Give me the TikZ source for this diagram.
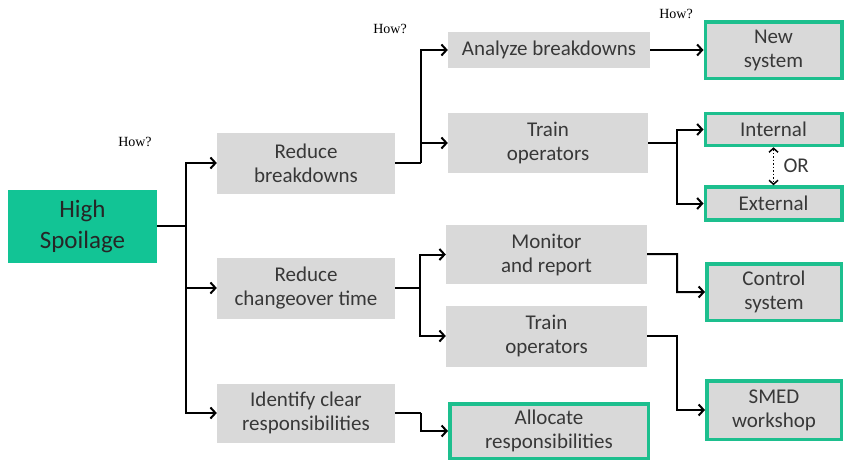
\documentclass[tikz,border=0pt]{standalone}
\usepackage{fontspec}
\setmainfont{Carlito}
\newfontfamily\howfont{Liberation Serif}
\usetikzlibrary{arrows.meta}

\definecolor{spoilgreen}{HTML}{12C495}
\definecolor{edgegreen}{HTML}{1DBF8E}
\definecolor{boxgray}{HTML}{D9D9D9}
\definecolor{textgray}{HTML}{383838}

\tikzset{
	cause/.style={fill=boxgray, text=textgray, align=center, inner sep=0pt,
		font=\fontsize{21}{24}\selectfont},
	action/.style={cause, draw=edgegreen, line width=3.5pt},
	howlabel/.style={font=\howfont\fontsize{14}{16}\selectfont, text=black},
	link/.style={line width=2pt, line join=miter},
}

\begin{document}
\begin{tikzpicture}[x=1pt, y=-1pt, >={Straight Barb[length=5pt, width=11pt]}]
	\useasboundingbox (0,0) rectangle (849,464);
	% root
	\node [fill=spoilgreen, text=black!85, align=center, inner sep=0pt,
		minimum width=149pt, minimum height=73pt,
		font=\fontsize{25}{31}\selectfont] (HS) at (82.5,226) {High\\Spoilage};
	% first level
	\node [cause, minimum width=178pt, minimum height=61pt] (RB) at (306,163) {Reduce\\breakdowns};
	\node [cause, minimum width=178pt, minimum height=61pt] (RC) at (306,288) {Reduce\\changeover time};
	\node [cause, minimum width=178pt, minimum height=59pt] (IC) at (306,413) {Identify clear\\responsibilities};
	% second level
	\node [cause, minimum width=202pt, minimum height=36pt] (AB) at (549,50) {Analyze breakdowns};
	\node [cause, minimum width=200pt, minimum height=60pt] (TO1) at (548,143) {Train\\operators};
	\node [cause, minimum width=201pt, minimum height=59pt] (MR) at (546.5,254.5) {Monitor\\and report};
	\node [cause, minimum width=201pt, minimum height=61pt] (TO2) at (546.5,336) {Train\\operators};
	\node [action, minimum width=198.5pt, minimum height=54.5pt] (AR) at (549,431) {Allocate\\responsibilities};
	% third level
	\node [action, minimum width=136.5pt, minimum height=56.5pt] (NS) at (773.5,50) {New\\system};
	\node [action, minimum width=136.5pt, minimum height=32pt] (IN) at (773.5,129.5) {Internal};
	\node [action, minimum width=136.5pt, minimum height=33pt] (EX) at (773.5,203.5) {External};
	\node [action, minimum width=134.5pt, minimum height=56.5pt] (CS) at (774,292) {Control\\system};
	\node [action, minimum width=134.5pt, minimum height=58.5pt] (SM) at (774,410) {SMED\\workshop};
	% questions
	\node [howlabel] (how1) at (135,142) {How?};
	\node [howlabel] (how2) at (390,29) {How?};
	\node [howlabel] (how3) at (676,14) {How?};
	% branch points
	\coordinate (j1) at (186,226);
	\coordinate (j2) at (421,163);
	\coordinate (j3) at (677,143);
	\coordinate (j4) at (420,288);
	\coordinate (j5) at (677,254);
	\coordinate (j6) at (677,336);
	\coordinate (j7) at (421,413);
	% connectors
	\draw [link] (HS) -- (j1);
	\draw [link, ->] (j1) |- (RB);
	\draw [link, ->] (j1) |- (RC);
	\draw [link, ->] (j1) |- (IC);
	\draw [link] (RB) -- (j2);
	\draw [link, ->] (j2) |- (AB);
	\draw [link, ->] (j2) |- (TO1);
	\draw [link, ->] (AB) -- (NS);
	\draw [link] (TO1) -- (j3);
	\draw [link, ->] (j3) |- (IN);
	\draw [link, ->] (j3) |- (EX);
	\draw [line width=1.5pt, dotted, <->, >={Straight Barb[length=4pt, width=9pt]}]
		(IN) -- node [right=6pt, font=\fontsize{21}{24}\selectfont, text=textgray] (or) {OR} (EX);
	\draw [link] (RC) -- (j4);
	\draw [link, ->] (j4) |- (MR);
	\draw [link, ->] (j4) |- (TO2);
	\draw [link, ->] (MR) -- (j5) |- (CS);
	\draw [link, ->] (TO2) -- (j6) |- (SM);
	\draw [link] (IC) -- (j7);
	\draw [link, ->] (j7) |- (AR);
\end{tikzpicture}
\end{document}
